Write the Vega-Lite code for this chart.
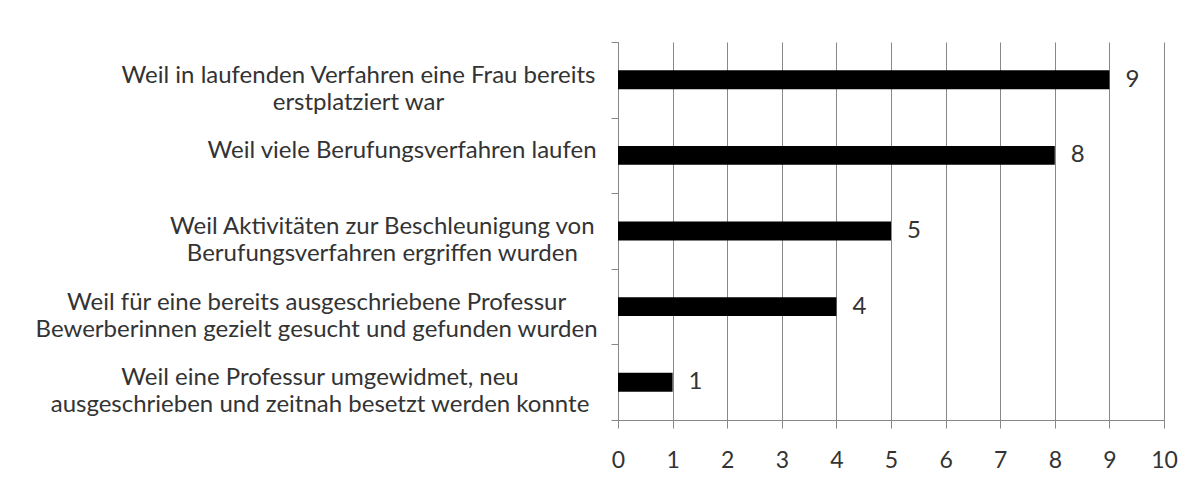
{
  "$schema": "https://vega.github.io/schema/vega-lite/v6.json",
  "width": 546,
  "height": 378,
  "autosize": {"type": "none"},
  "padding": {"left": 618, "top": 42, "right": 28, "bottom": 75},
  "background": "white",
  "config": {"view": {"stroke": null}, "font": "Lato"},
  "data": {
    "values": [
      {"reason": "Weil in laufenden Verfahren eine Frau bereits|erstplatziert war", "count": 9},
      {"reason": "Weil viele Berufungsverfahren laufen", "count": 8},
      {"reason": "Weil Aktivitäten zur Beschleunigung von|Berufungsverfahren ergriffen wurden", "count": 5},
      {"reason": "Weil für eine bereits ausgeschriebene Professur|Bewerberinnen gezielt gesucht und gefunden wurden", "count": 4},
      {"reason": "Weil eine Professur umgewidmet, neu|ausgeschrieben und zeitnah besetzt werden konnte", "count": 1}
    ]
  },
  "encoding": {
    "y": {
      "field": "reason",
      "type": "nominal",
      "sort": null,
      "scale": {"paddingInner": 0, "paddingOuter": 0},
      "axis": {
        "title": null,
        "tickBand": "extent",
        "labels": false,
        "tickSize": 7,
        "domainColor": "#888888",
        "tickColor": "#888888",
        "grid": false
      }
    }
  },
  "layer": [
    {
      "mark": {"type": "bar", "color": "black", "height": {"band": 0.25}},
      "encoding": {
        "x": {
          "field": "count",
          "type": "quantitative",
          "scale": {"domain": [0, 10], "nice": false},
          "axis": {
            "title": null,
            "values": [0, 1, 2, 3, 4, 5, 6, 7, 8, 9, 10],
            "grid": true,
            "gridColor": "#888888",
            "domainColor": "#888888",
            "tickColor": "#888888",
            "tickSize": 8,
            "labelPadding": 21,
            "labelFontSize": 23,
            "labelFlush": false,
            "labelColor": "#333333"
          }
        }
      }
    },
    {
      "mark": {
        "type": "text",
        "align": "center",
        "baseline": "middle",
        "fontSize": 24,
        "lineHeight": 27,
        "color": "#333333",
        "dy": -4,
        "text": {"expr": "split(datum.reason, '|')"},
        "dx": {"expr": "-23 - 0.5 * max(13.15 * length(split(datum.reason, '|')[0]) - 6.25 * length(replace(split(datum.reason, '|')[0], regexp('[^ilftrj ,.]', 'g'), '')), 13.15 * length(peek(split(datum.reason, '|'))) - 6.25 * length(replace(peek(split(datum.reason, '|')), regexp('[^ilftrj ,.]', 'g'), '')))"}
      },
      "encoding": {
        "x": {"datum": 0, "type": "quantitative"}
      }
    },
    {
      "mark": {"type": "text", "align": "left", "baseline": "middle", "dx": 16, "fontSize": 24, "color": "#333333"},
      "encoding": {
        "x": {"field": "count", "type": "quantitative"},
        "text": {"field": "count", "type": "quantitative"}
      }
    }
  ]
}
